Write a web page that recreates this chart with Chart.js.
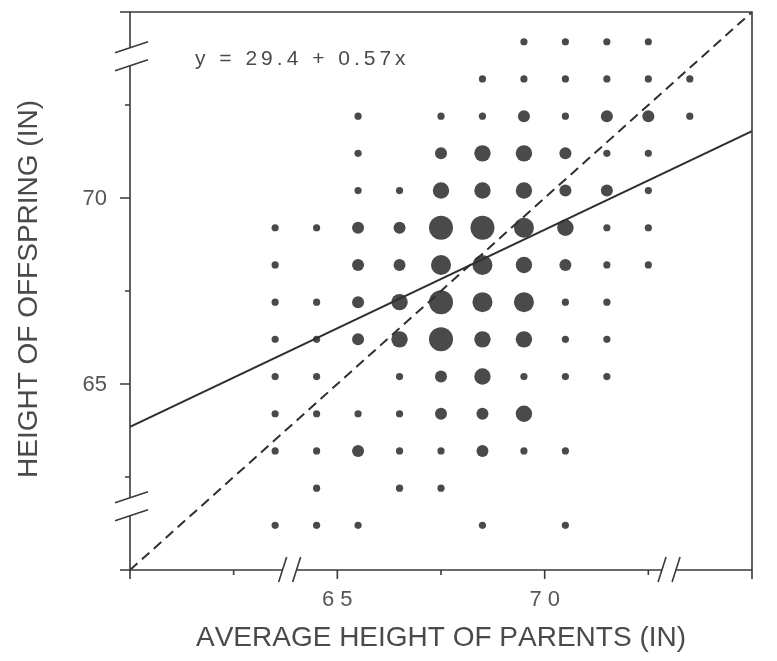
<!DOCTYPE html>
<html>
<head>
<meta charset="utf-8">
<script src="https://cdn.jsdelivr.net/npm/chart.js@4"></script>
<style>
  html, body { margin: 0; padding: 0; background: #ffffff; }
  #c { display: block; }
</style>
</head>
<body>
<canvas id="c" width="777" height="661"></canvas>
<script>
// ---------------- data ----------------
// Column centres: average height of parents (in)
const parentHeights = [63.5, 64.5, 65.5, 66.5, 67.5, 68.5, 69.5, 70.5, 71.5, 72.5, 73.5];
// Row centres: height of offspring (in), top to bottom
const offspringHeights = [74.2, 73.2, 72.2, 71.2, 70.2, 69.2, 68.2, 67.2, 66.2, 65.2, 64.2, 63.2, 62.2, 61.2];
// Number of families in each cell (rows follow offspringHeights, columns follow parentHeights)
const familyCounts = [
  [0, 0, 0, 0, 0, 0, 5, 3, 2, 4, 0],
  [0, 0, 0, 0, 0, 3, 4, 3, 2, 2, 3],
  [0, 0, 1, 0, 4, 4, 11, 4, 9, 7, 1],
  [0, 0, 2, 0, 11, 18, 20, 7, 4, 2, 0],
  [0, 0, 5, 4, 19, 21, 25, 14, 10, 1, 0],
  [1, 2, 7, 13, 38, 48, 33, 18, 5, 2, 0],
  [1, 0, 7, 14, 28, 34, 20, 12, 3, 1, 0],
  [2, 5, 11, 17, 38, 31, 27, 3, 4, 0, 0],
  [2, 5, 11, 17, 36, 25, 17, 1, 3, 0, 0],
  [1, 1, 0, 2, 15, 16, 4, 1, 1, 0, 0],
  [4, 4, 5, 5, 14, 11, 16, 0, 0, 0, 0],
  [2, 4, 9, 3, 5, 7, 1, 1, 0, 0, 0],
  [0, 1, 0, 3, 3, 0, 0, 0, 0, 0, 0],
  [1, 1, 1, 0, 0, 1, 0, 1, 0, 0, 0]
];
// Fitted regression line (as drawn) and the y = x line
const regressionX = [60, 75];
const regressionY = [63.85, 71.8];
const identityX = [60, 75];
const identityY = [60, 75];
// Axes
const axisMin = 60;
const axisMax = 75;
const tickStep = 2.5;
const xTickValues = [65, 70];
const xTickLabels = ['65', '70'];
const yTickValues = [65, 70];
const yTickLabels = ['65', '70'];
const xBreaks = [63.85, 73.0];
const yBreaks = [61.7, 73.8];
const xTitle = 'AVERAGE HEIGHT OF PARENTS (IN)';
const yTitle = 'HEIGHT OF OFFSPRING (IN)';
const equationText = 'y = 29.4 + 0.57x';

// ---------------- build ----------------
const points = [];
offspringHeights.forEach((yv, i) => {
  parentHeights.forEach((xv, j) => {
    const n = familyCounts[i][j];
    if (n > 0) points.push({ x: xv, y: yv, n: n });
  });
});
function radiusFor(n) {
  if (n <= 5) return 3.6;
  if (n <= 15) return 6;
  if (n <= 25) return 8.2;
  if (n <= 35) return 10;
  return 12;
}

const FONT = '"Liberation Sans", Arial, Helvetica, sans-serif';
const TEXT_COLOR = '#4a4a4a';
const AXIS_COLOR = '#3a3a3a';

function drawSpaced(ctx, text, x, y, spacing, align) {
  const chars = Array.from(text);
  let total = 0;
  const widths = chars.map(ch => ctx.measureText(ch).width);
  widths.forEach((w, i) => { total += w + (i < chars.length - 1 ? spacing : 0); });
  let cx = x;
  if (align === 'center') cx = x - total / 2;
  else if (align === 'right') cx = x - total;
  ctx.textAlign = 'left';
  chars.forEach((ch, i) => { ctx.fillText(ch, cx, y); cx += widths[i] + spacing; });
}

const framePlugin = {
  id: 'frame',
  afterDatasetsDraw(chart) {
    const ctx = chart.ctx;
    const a = chart.chartArea;
    const xs = chart.scales.x, ys = chart.scales.y;
    ctx.save();
    // box
    ctx.strokeStyle = AXIS_COLOR;
    ctx.lineWidth = 1.6;
    ctx.beginPath();
    ctx.rect(a.left, a.top, a.right - a.left, a.bottom - a.top);
    ctx.stroke();
    // ticks
    ctx.beginPath();
    xs.ticks.forEach(t => {
      const px = xs.getPixelForValue(t.value);
      const major = Math.abs(t.value % 5) < 1e-6;
      ctx.moveTo(px, a.bottom);
      ctx.lineTo(px, a.bottom + (major ? 9 : 5));
    });
    ys.ticks.forEach(t => {
      const py = ys.getPixelForValue(t.value);
      const major = Math.abs(t.value % 5) < 1e-6;
      ctx.moveTo(a.left, py);
      ctx.lineTo(a.left - (major ? 10 : 5), py);
    });
    ctx.stroke();
    // axis breaks
    xBreaks.forEach(v => {
      const px = xs.getPixelForValue(v);
      ctx.fillStyle = '#ffffff';
      ctx.fillRect(px - 7, a.bottom - 3, 14, 6);
      ctx.beginPath();
      [-7, 7].forEach(d => {
        ctx.moveTo(px + d - 4, a.bottom + 12);
        ctx.lineTo(px + d + 4, a.bottom - 13);
      });
      ctx.stroke();
    });
    yBreaks.forEach(v => {
      const py = ys.getPixelForValue(v);
      ctx.fillStyle = '#ffffff';
      ctx.fillRect(a.left - 3, py - 9, 6, 18);
      ctx.beginPath();
      [-9, 9].forEach(d => {
        ctx.moveTo(a.left - 15, py + d + 5);
        ctx.lineTo(a.left + 18, py + d - 6);
      });
      ctx.stroke();
    });
    // tick labels
    ctx.fillStyle = '#555555';
    ctx.font = '22px ' + FONT;
    ctx.textBaseline = 'middle';
    yTickValues.forEach((v, i) => {
      const py = ys.getPixelForValue(v);
      drawSpaced(ctx, yTickLabels[i], a.left - 23, py + 1, 0, 'right');
    });
    xTickValues.forEach((v, i) => {
      const px = xs.getPixelForValue(v);
      drawSpaced(ctx, xTickLabels[i], px, a.bottom + 30, 6, 'center');
    });
    // axis titles
    ctx.fillStyle = TEXT_COLOR;
    ctx.font = '28px ' + FONT;
    ctx.textBaseline = 'middle';
    drawSpaced(ctx, xTitle, (a.left + a.right) / 2, 638, 0, 'center');
    ctx.save();
    ctx.translate(29, (a.top + a.bottom) / 2 - 2);
    ctx.rotate(-Math.PI / 2);
    drawSpaced(ctx, yTitle, 0, 0, 0, 'center');
    ctx.restore();
    // equation
    ctx.font = '21px ' + FONT;
    ctx.fillStyle = TEXT_COLOR;
    drawSpaced(ctx, equationText, a.left + 65, a.top + 47, 4, 'left');
    ctx.restore();
  }
};

new Chart(document.getElementById('c').getContext('2d'), {
  type: 'scatter',
  data: {
    datasets: [
      {
        type: 'line',
        label: 'regression',
        data: regressionX.map((x, i) => ({ x: x, y: regressionY[i] })),
        borderColor: '#2f2f2f',
        borderWidth: 2,
        pointRadius: 0,
        fill: false,
        order: 0
      },
      {
        type: 'line',
        label: 'y = x',
        data: identityX.map((x, i) => ({ x: x, y: identityY[i] })),
        borderColor: '#2f2f2f',
        borderWidth: 2,
        borderDash: [10, 6],
        pointRadius: 0,
        fill: false,
        order: 0
      },
      {
        label: 'families',
        data: points,
        pointRadius: c => radiusFor(c.raw.n),
        pointHoverRadius: c => radiusFor(c.raw.n),
        backgroundColor: '#4a4a4a',
        borderWidth: 0,
        order: 1
      }
    ]
  },
  options: {
    responsive: false,
    animation: false,
    devicePixelRatio: 1,
    layout: { padding: { top: 10, right: 25, left: 0, bottom: 0 } },
    plugins: { legend: { display: false }, tooltip: { enabled: false } },
    scales: {
      x: {
        type: 'linear', min: axisMin, max: axisMax,
        ticks: { stepSize: tickStep, display: false },
        grid: { display: false, drawTicks: false },
        border: { display: false },
        afterFit: s => { s.height = 91; }
      },
      y: {
        type: 'linear', min: axisMin, max: axisMax,
        ticks: { stepSize: tickStep, display: false },
        grid: { display: false, drawTicks: false },
        border: { display: false },
        afterFit: s => { s.width = 130; }
      }
    }
  },
  plugins: [framePlugin]
});
</script>
</body>
</html>
